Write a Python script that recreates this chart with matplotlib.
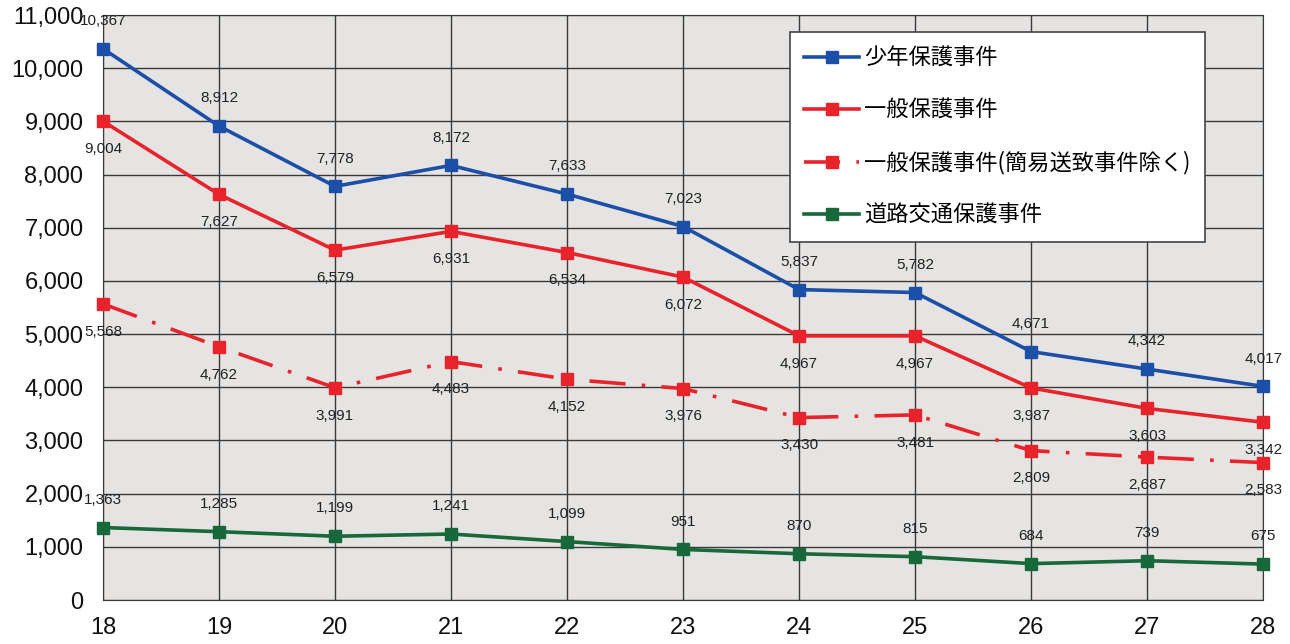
import matplotlib
matplotlib.use("Agg")
import matplotlib.pyplot as plt

plt.rcParams['font.family'] = ['Noto Sans CJK JP', 'DejaVu Sans']

years = [18, 19, 20, 21, 22, 23, 24, 25, 26, 27, 28]
shonen = [10367, 8912, 7778, 8172, 7633, 7023, 5837, 5782, 4671, 4342, 4017]
ippan = [9004, 7627, 6579, 6931, 6534, 6072, 4967, 4967, 3987, 3603, 3342]
ippan_excl = [5568, 4762, 3991, 4483, 4152, 3976, 3430, 3481, 2809, 2687, 2583]
doro = [1363, 1285, 1199, 1241, 1099, 951, 870, 815, 684, 739, 675]

names = ["少年保護事件", "一般保護事件", "一般保護事件(簡易送致事件除く)", "道路交通保護事件"]

fig = plt.figure(figsize=(12.9, 6.44), dpi=100)
ax = fig.add_axes([0.0798, 0.0683, 0.8994, 0.9084])
ax.set_facecolor("#e5e4e2")

series = [
    (shonen, "#1c4fa8", "-", 1),
    (ippan, "#e8232b", "-", -1),
    (ippan_excl, "#e8232b", (0, (10, 4.5, 1, 4.5)), -1),
    (doro, "#17683a", "-", 1),
]

for (vals, col, ls, side), name in zip(series, names):
    ax.plot(years, vals, color=col, linestyle=ls, linewidth=2.6, marker="s",
            markersize=9, label=name, clip_on=False, zorder=3)
    for x, v in zip(years, vals):
        ax.annotate(f"{v:,}", (x, v), xytext=(0, 20 * side), textcoords="offset points",
                    ha="center", va="center", fontsize=11,
                    family="Liberation Sans", color="#222222", zorder=4)

ax.set_xlim(18, 28)
ax.set_ylim(0, 11000)
ax.set_xticks(years)
ax.set_yticks(range(0, 11001, 1000))
ax.set_yticklabels([f"{t:,}" for t in range(0, 11001, 1000)])
ax.grid(True, color="#3a3a3a", linewidth=1.0)
ax.set_axisbelow(True)
ax.tick_params(length=0, labelsize=17, labelcolor="#111111")
ax.tick_params(axis="x", pad=12)
ax.tick_params(axis="y", pad=14)
for lab in ax.get_xticklabels() + ax.get_yticklabels():
    lab.set_family("Liberation Sans")
for s in ax.spines.values():
    s.set_color("#3a3a3a")

leg = ax.legend(loc="upper right", bbox_to_anchor=(0.950, 0.971), fontsize=16,
                frameon=True, fancybox=False, edgecolor="#444444",
                labelspacing=1.32, handlelength=2.45, borderpad=0.65,
                handletextpad=0.25, borderaxespad=0)
leg.get_frame().set_linewidth(1.2)
leg.get_frame().set_facecolor("white")
leg.get_frame().set_alpha(1)

fig.savefig("out.png", dpi=100)
